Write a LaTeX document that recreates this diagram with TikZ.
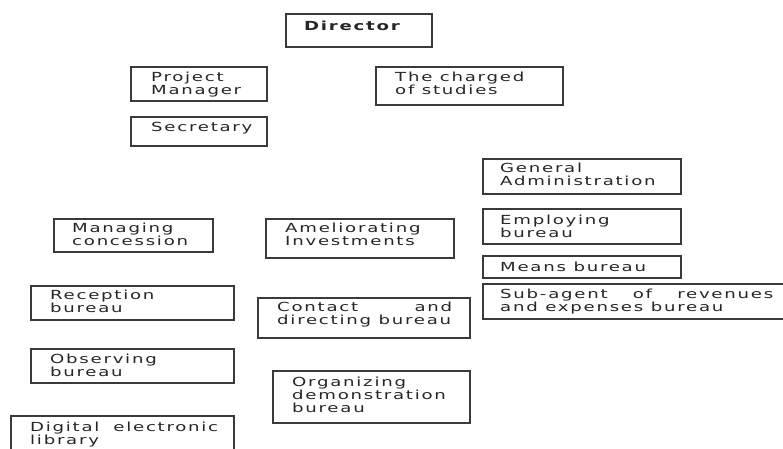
\documentclass[tikz,border=0pt]{standalone}
\usepackage{fontspec}
\setmainfont{DejaVu Sans}[FakeStretch=1.45, LetterSpace=14]
\definecolor{boxline}{HTML}{3A3A3A}
\definecolor{txtcol}{HTML}{262626}
\begin{document}
\begin{tikzpicture}[x=1pt,y=-1pt,
  orgbox/.style={draw=boxline, line width=1.5pt, anchor=north west, inner sep=0pt, rectangle},
  orgtxt/.style={anchor=north west, inner sep=0pt, align=left, text=txtcol,
     font=\fontsize{12.5}{12.8}\selectfont, execute at begin node={\rule{0pt}{10pt}}}]
\clip (0,0) rectangle (783,448);
\fill[white] (0,0) rectangle (783,448);
% boxes
\node[orgbox, minimum width=146pt, minimum height=33pt] (dir) at (285,13) {};
\node[orgbox, minimum width=136pt, minimum height=34pt] (pm) at (130,66) {};
\node[orgbox, minimum width=136pt, minimum height=29pt] (sec) at (130,116) {};
\node[orgbox, minimum width=187pt, minimum height=38pt] (chg) at (375,66) {};
\node[orgbox, minimum width=198pt, minimum height=35pt] (gen) at (482,158) {};
\node[orgbox, minimum width=198pt, minimum height=35pt] (emp) at (482,208) {};
\node[orgbox, minimum width=198pt, minimum height=22pt] (mea) at (482,255) {};
\node[orgbox, minimum width=305pt, minimum height=35pt] (sub) at (482,283) {};
\node[orgbox, minimum width=159pt, minimum height=33pt] (man) at (53,218) {};
\node[orgbox, minimum width=188pt, minimum height=39pt] (ame) at (265,218) {};
\node[orgbox, minimum width=203pt, minimum height=34pt] (rec) at (30,285) {};
\node[orgbox, minimum width=212pt, minimum height=40pt] (con) at (257,297) {};
\node[orgbox, minimum width=203pt, minimum height=34pt] (obs) at (30,348) {};
\node[orgbox, minimum width=197pt, minimum height=52pt] (org) at (272,370) {};
\node[orgbox, minimum width=223pt, minimum height=40pt] (dig) at (10,415) {};
% texts
\node[orgtxt] (dirt) at (304,20) {\textbf{Director}};
\node[orgtxt] (pmt) at (151,72) {Project\\Manager};
\node[orgtxt] (sect) at (151,121) {Secretary};
\node[orgtxt] (chgt) at (395,72) {The charged\\of studies};
\node[orgtxt] (gent) at (500,163) {General\\Administration};
\node[orgtxt] (empt) at (500,215) {Employing\\bureau};
\node[orgtxt] (meat) at (500,261) {Means bureau};
\node[orgtxt] (subt) at (500,289) {\hbox to 273pt{Sub-agent\hfill of\hfill revenues}\\and expenses bureau};
\node[orgtxt] (mant) at (72,223) {Managing\\concession};
\node[orgtxt] (amet) at (285,223) {Ameliorating\\Investments};
\node[orgtxt] (rect) at (50,290) {Reception\\bureau};
\node[orgtxt] (cont) at (277,302) {\hbox to 175pt{Contact\hfill and}\\directing bureau};
\node[orgtxt] (obst) at (50,354) {Observing\\bureau};
\node[orgtxt] (orgt) at (292,377) {Organizing\\demonstration\\bureau};
\node[orgtxt] (digt) at (30,422) {\hbox to 188pt{Digital\hfill electronic}\\library};
\end{tikzpicture}
\end{document}
